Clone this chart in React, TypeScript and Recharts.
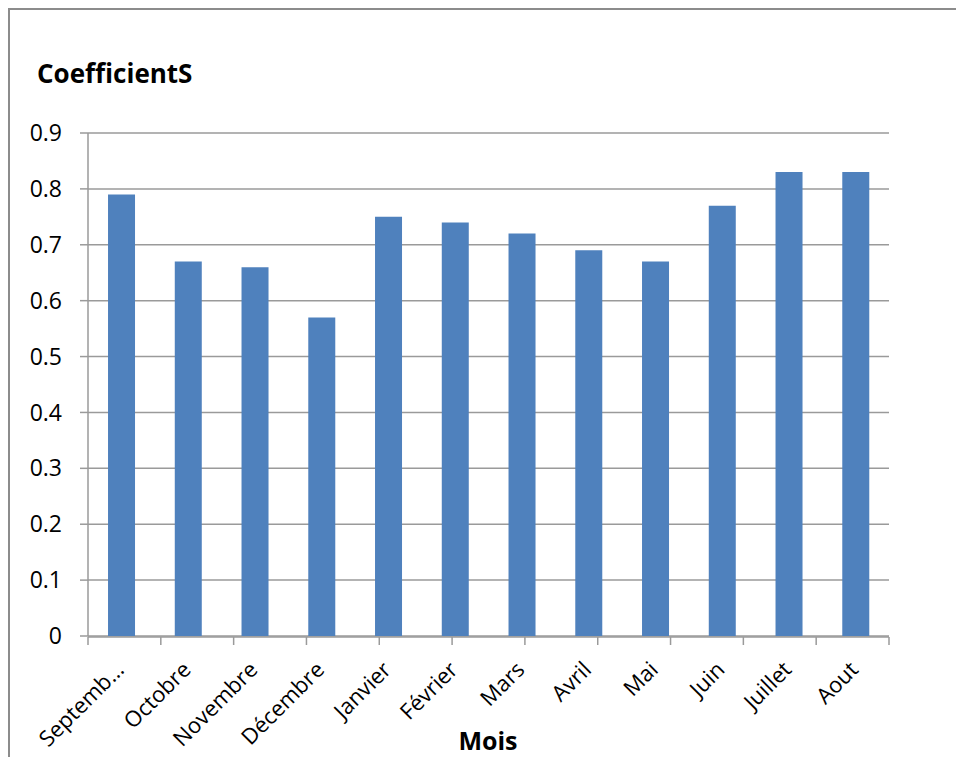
import { BarChart, Bar, XAxis, YAxis, CartesianGrid } from "recharts";

const months = [
  "Septembre",
  "Octobre",
  "Novembre",
  "Décembre",
  "Janvier",
  "Février",
  "Mars",
  "Avril",
  "Mai",
  "Juin",
  "Juillet",
  "Aout",
];
const coefficients = [0.79, 0.67, 0.66, 0.57, 0.75, 0.74, 0.72, 0.69, 0.67, 0.77, 0.83, 0.83];
const yTicks = [0, 0.1, 0.2, 0.3, 0.4, 0.5, 0.6, 0.7, 0.8, 0.9];

const data = months.map((m, i) => ({ mois: m, coef: coefficients[i] }));
// category boundaries, for the Excel-style ticks between bars
const boundaries = months.map((_, i) => i).concat(months.length);

const FONT = "'Open Sans', sans-serif";
const GRAY = "#9a9a9a";

function shortLabel(s: string): string {
  return s.length > 8 ? s.slice(0, 7) + "…" : s;
}

function MonthTick(props: any) {
  const { x, y, payload } = props;
  const tx = x - 7;
  const ty = y + 4;
  return (
    <text
      x={tx}
      y={ty}
      dy="0.71em"
      textAnchor="end"
      transform={`rotate(-45, ${tx}, ${ty})`}
      fontSize={22}
      fontFamily={FONT}
      fill="#000"
    >
      {shortLabel(payload.value)}
    </text>
  );
}

export default function App() {
  return (
    <div
      style={{
        position: "relative",
        width: 956,
        height: 749,
        borderTop: "2px solid #8c8c8c",
        borderLeft: "2px solid #8c8c8c",
        boxSizing: "border-box",
        fontFamily: FONT,
        background: "#fff",
      }}
    >
      <div
        style={{
          position: "absolute",
          left: 27,
          top: 50,
          fontSize: 26,
          fontWeight: 700,
          lineHeight: 1,
          color: "#000",
        }}
      >
        CoefficientS
      </div>
      <BarChart
        width={954}
        height={747}
        data={data}
        margin={{ top: 123, right: 75, left: 18, bottom: 10 }}
        barCategoryGap="30%"
      >
        <CartesianGrid vertical={false} stroke={GRAY} strokeWidth={1.5} xAxisId="cat" />
        <XAxis
          xAxisId="cat"
          dataKey="mois"
          height={1}
          axisLine={false}
          tickLine={false}
          tickSize={0}
          tickMargin={20}
          interval={0}
          tick={<MonthTick />}
        />
        <XAxis
          xAxisId="grid"
          type="number"
          domain={[0, months.length]}
          ticks={boundaries}
          height={110}
          tickSize={8}
          tickFormatter={() => ""}
          stroke={GRAY}
          strokeWidth={1.5}
          tickLine={{ stroke: GRAY, strokeWidth: 1.5 }}
          axisLine={{ stroke: GRAY, strokeWidth: 1.5 }}
        />
        <YAxis
          domain={[0, 0.9]}
          ticks={yTicks}
          width={60}
          tickSize={8}
          tickMargin={18}
          stroke={GRAY}
          strokeWidth={1.5}
          tick={{ fill: "#000", fontSize: 23, fontFamily: FONT }}
        />
        <Bar xAxisId="cat" dataKey="coef" fill="#4f81bd" isAnimationActive={false} />
      </BarChart>
      <div
        style={{
          position: "absolute",
          left: 378,
          width: 200,
          top: 718,
          textAlign: "center",
          fontSize: 25,
          fontWeight: 700,
          lineHeight: 1,
          color: "#000",
        }}
      >
        Mois
      </div>
    </div>
  );
}
